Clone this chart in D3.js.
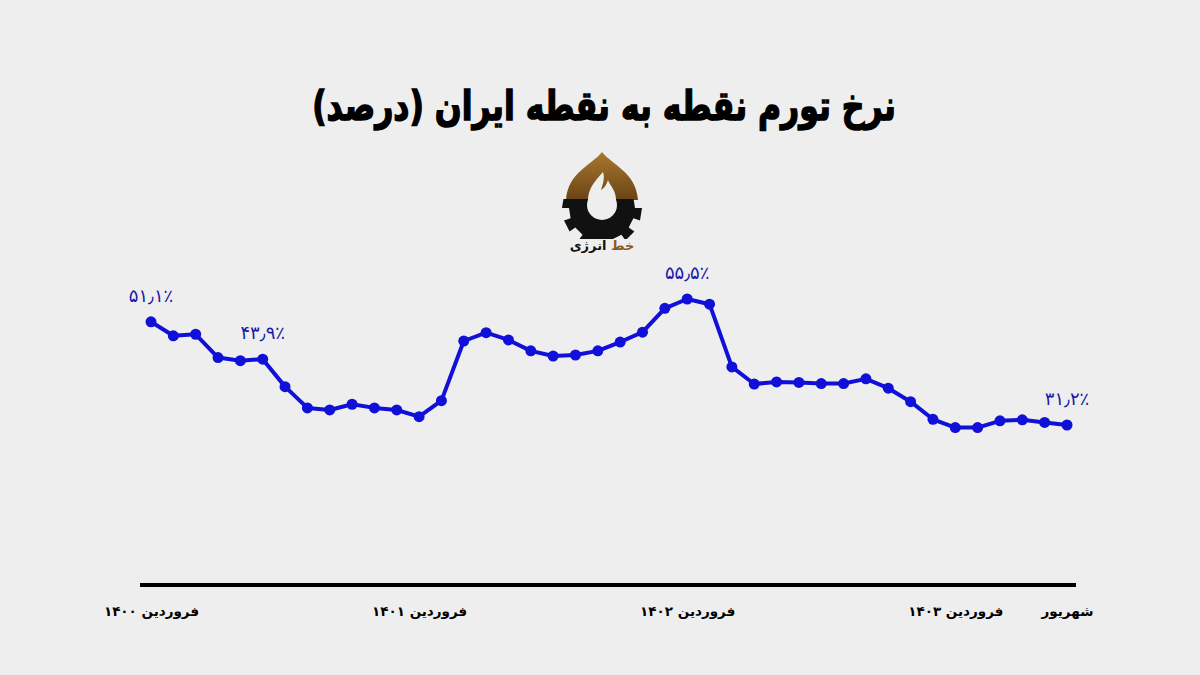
<!DOCTYPE html>
<html><head><meta charset="utf-8">
<script src="https://cdn.jsdelivr.net/npm/d3@7"></script>
<style>
html,body{margin:0;padding:0;background:#eeeeee;}
svg{display:block;}
</style></head>
<body><svg id="c" width="1200" height="675"></svg>
<script>
const title = "نرخ تورم نقطه به نقطه ایران (درصد)";
const months = d3.range(42); // فروردین ۱۴۰۰ تا شهریور ۱۴۰۳
const values = [51.1,48.4,48.7,44.2,43.6,43.9,38.6,34.5,34.1,35.2,34.5,34.1,
  32.8,35.9,47.4,49.0,47.6,45.5,44.5,44.7,45.5,47.2,49.1,53.7,
  55.5,54.5,42.4,39.1,39.5,39.4,39.2,39.2,40.1,38.3,35.7,32.3,
  30.7,30.7,32.0,32.2,31.7,31.2];
const tickIdx = [0,12,24,36,41];
const tickLabels = ["فروردین ۱۴۰۰","فروردین ۱۴۰۱","فروردین ۱۴۰۲","فروردین ۱۴۰۳","شهریور"];
const annIdx = [0,5,24,41];
const annLabels = ["۵۱٫۱٪","۴۳٫۹٪","۵۵٫۵٪","۳۱٫۲٪"];

const svg = d3.select("#c");
svg.append("rect").attr("width",1200).attr("height",675).attr("fill","#eeeeee");

const x = d3.scaleLinear().domain([0,41]).range([151,1067]);
const y = d3.scaleLinear().domain([31.2,55.5]).range([425,299]);

svg.append("text").attr("transform","translate(604,120) scale(1,1.3)").attr("text-anchor","middle")
  .attr("font-family","DejaVu Sans").attr("font-weight","bold").attr("font-size",31.5)
  .attr("stroke","#000").attr("stroke-width",1.2)
  .attr("fill","#000").attr("direction","rtl").text(title);

// logo
const lg = svg.append("g");
const defs = svg.append("defs");
const grad = defs.append("linearGradient").attr("id","dg").attr("x1",0).attr("y1",0).attr("x2",0).attr("y2",1);
grad.append("stop").attr("offset","0%").attr("stop-color","#a9782f");
grad.append("stop").attr("offset","100%").attr("stop-color","#6b4416");
lg.append("path").attr("fill","url(#dg)")
  .attr("d","M602,152 C612,165 636,172 638,200 L566,200 C568,172 592,165 602,152 Z");
// gear
const gcx=602,gcy=208, rO=40, rI=33, nT=10;
let gp="";
for(let i=0;i<nT*2;i++){
  const a0=(i/(nT*2))*2*Math.PI, a1=((i+1)/(nT*2))*2*Math.PI;
  const r = i%2===0? rO: rI;
  const p0=[gcx+r*Math.cos(a0),gcy+r*Math.sin(a0)], p1=[gcx+r*Math.cos(a1),gcy+r*Math.sin(a1)];
  gp += (i===0?"M":"L")+p0[0].toFixed(1)+","+p0[1].toFixed(1)+"L"+p1[0].toFixed(1)+","+p1[1].toFixed(1);
}
gp+="Z";
defs.append("clipPath").attr("id","gc").append("rect").attr("x",550).attr("y",199).attr("width",110).attr("height",40);
lg.append("path").attr("d",gp).attr("fill","#111").attr("clip-path","url(#gc)");
lg.append("circle").attr("cx",602).attr("cy",205).attr("r",15).attr("fill","#eeeeee");
lg.append("path").attr("fill","#eeeeee")
  .attr("d","M603,172 C596,180 588,188 588,200 L616,200 C616,190 610,186 608,180 C606,186 604,188 601,190 C603,184 605,178 603,172 Z");
lg.append("text").attr("x",602).attr("y",250).attr("text-anchor","middle").attr("direction","rtl")
  .attr("font-family","DejaVu Sans").attr("font-weight","bold").attr("font-size",13)
  .html('<tspan fill="#8a5a1e">خط</tspan><tspan fill="#111"> انرژی</tspan>');

// axis
const xAxis = d3.axisBottom(x).tickValues(tickIdx).tickSize(0).tickFormat((d,i)=>tickLabels[i]);
const ax = svg.append("g").attr("transform","translate(0,585)").call(xAxis);
ax.select(".domain").attr("d","M140,0H1076").attr("stroke","#000").attr("stroke-width",4);
ax.selectAll("text").attr("font-family","DejaVu Sans").attr("font-weight","bold").attr("font-size",13.5)
  .attr("fill","#000").attr("dy",0).attr("y",31).attr("direction","rtl");

// line
const line = d3.line().x((d,i)=>x(months[i])).y(d=>y(d));
svg.append("path").datum(values).attr("d",line).attr("fill","none")
  .attr("stroke","#1010d8").attr("stroke-width",4).attr("stroke-linejoin","round");
svg.selectAll("circle.pt").data(values).enter().append("circle").attr("class","pt")
  .attr("cx",(d,i)=>x(months[i])).attr("cy",d=>y(d)).attr("r",5.5).attr("fill","#1010d8");

svg.selectAll("text.ann").data(annIdx).enter().append("text").attr("class","ann")
  .attr("x",d=>x(d)).attr("y",d=>y(values[d])-20).attr("text-anchor","middle")
  .attr("font-family","DejaVu Sans").attr("font-size",18).attr("fill","#1a1aa8")
  .text((d,i)=>annLabels[i]);
</script></body></html>
